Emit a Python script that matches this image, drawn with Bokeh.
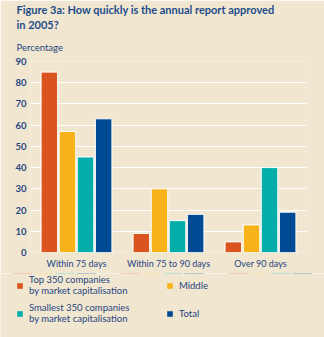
from bokeh.plotting import figure
from bokeh.layouts import column
from bokeh.models import FactorRange, Range1d, ColumnDataSource, Legend, LegendItem, FixedTicker, Title
from bokeh.transform import dodge
from bokeh.embed import file_html
from bokeh.resources import INLINE

groups = ["Within 75 days", "Within 75 to 90 days", "Over 90 days"]
top350 = [85, 9, 5]
middle = [57, 30, 13]
smallest350 = [45, 15, 40]
total = [63, 18, 19]
series_keys = ["top350", "middle", "smallest350", "total"]
series_labels = ["Top 350 companies\nby market capitalisation", "Middle",
                 "Smallest 350 companies\nby market capitalisation", "Total"]
y_ticks = [0, 10, 20, 30, 40, 50, 60, 70, 80, 90]
title_lines = ["Figure 3a: How quickly is the annual report approved", "in 2005?"]
y_title = "Percentage"

BG = "#F1E6CF"
NAVY = "#1F4583"
TITLE_C = "#1D4C8C"
FONT = "Lato"
colors = ["#D9541E", "#F8B21A", "#00ADA9", "#004A93"]
offsets = [-0.295, -0.098, 0.098, 0.295]

W, H_MAIN, H_LEG = 324, 273, 64

src = ColumnDataSource(dict(cat=groups, top350=top350, middle=middle,
                            smallest350=smallest350, total=total))

p = figure(width=W, height=H_MAIN, x_range=FactorRange(factors=groups, range_padding=0),
           y_range=Range1d(0, 90), output_backend="svg", toolbar_location=None,
           title=title_lines[0],
           min_border_left=30, min_border_right=18, min_border_top=0, min_border_bottom=21,
           background_fill_color=BG, border_fill_color=BG, outline_line_color=None)

for key, off, c in zip(series_keys, offsets, colors):
    p.vbar(x=dodge("cat", off, range=p.x_range), top=key, width=0.18, source=src,
           fill_color=c, line_color="white", line_width=1)

p.xgrid.grid_line_color = None
p.ygrid.grid_line_color = "white"
p.ygrid.grid_line_width = 1
p.yaxis.ticker = FixedTicker(ticks=y_ticks)
for ax in (p.xaxis[0], p.yaxis[0]):
    ax.axis_line_color = None
    ax.major_tick_line_color = None
    ax.minor_tick_line_color = None
    ax.major_tick_out = 0
    ax.major_tick_in = 0
    ax.minor_tick_out = 0
    ax.major_label_text_color = NAVY
    ax.major_label_text_font = FONT
p.yaxis.major_label_text_font_size = "9.5px"
p.yaxis.major_label_text_font_style = "bold"
p.yaxis.major_label_standoff = 4
p.xaxis.major_label_text_font_size = "9px"
p.xaxis.major_label_standoff = 5

# title block: p.title is outermost; later-added Titles sit further from the plot
p.title.text_font = FONT
p.title.text_font_size = "11px"
p.title.text_font_style = "bold"
p.title.text_color = TITLE_C
p.title.align = "left"
p.title.offset = -14
p.title.standoff = 0
p.add_layout(Title(text=y_title, text_font=FONT, text_font_size="9.5px", text_font_style="normal",
                   text_color=NAVY, align="left", offset=-14, standoff=17), "above")
p.add_layout(Title(text=title_lines[1], text_font=FONT, text_font_size="11px", text_font_style="bold",
                   text_color=TITLE_C, align="left", offset=-14, standoff=1), "above")

# legend panel (its bars lie outside its visible y-range; only the swatches show)
leg = figure(width=W, height=H_LEG, output_backend="svg", toolbar_location=None,
             x_range=FactorRange(factors=groups, range_padding=0), y_range=Range1d(-2, -1),
             x_axis_type=None, y_axis_type=None,
             min_border_left=0, min_border_right=0, min_border_top=0, min_border_bottom=0,
             background_fill_color=BG, border_fill_color=BG, outline_line_color=None)
leg.grid.visible = False
legend_x = 16
if "frame_align" in leg.properties():
    leg.frame_align = False
    p.frame_align = False
else:
    legend_x = -14
items = []
for key, off, c, lab in zip(series_keys, offsets, colors, series_labels):
    r = leg.vbar(x=dodge("cat", off, range=leg.x_range), top=key, bottom=0, width=0.18,
                 source=src, fill_color=c, line_color=None)
    items.append(LegendItem(label=lab, renderers=[r]))
legend = Legend(items=items, orientation="horizontal", ncols=2,
                background_fill_alpha=0, border_line_color=None,
                label_text_font=FONT, label_text_font_size="9.5px", label_text_color=NAVY,
                label_text_line_height=1.2,
                glyph_width=7, glyph_height=7, label_standoff=6, spacing=6,
                label_width=131, padding=0, margin=0, location=(legend_x, 13))
leg.add_layout(legend, "center")

layout = column(p, leg, spacing=0)
open("out.html", "w").write(file_html(layout, INLINE))
